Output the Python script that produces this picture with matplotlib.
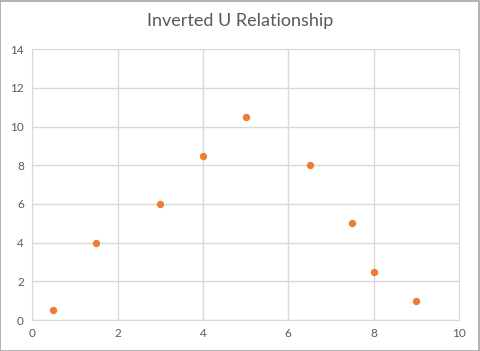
import matplotlib.pyplot as plt
from matplotlib.patches import Rectangle

# data
x_vals = [0.5, 1.5, 3, 4, 5, 6.5, 7.5, 8, 9]
y_vals = [0.5, 4, 6, 8.5, 10.5, 8, 5, 2.5, 1]
x_ticks = [0, 2, 4, 6, 8, 10]
y_ticks = [0, 2, 4, 6, 8, 10, 12, 14]

plt.rcParams['font.family'] = ['Lato', 'DejaVu Sans']

fig = plt.figure(figsize=(4.8, 3.51), dpi=100)
ax = fig.add_axes([0.067, 0.088, 0.889, 0.772])

grid_col = '#d9d9d9'
text_col = '#595959'

ax.scatter(x_vals, y_vals, s=28, color='#ED7D31', zorder=3, linewidths=0)

ax.set_xlim(0, 10)
ax.set_ylim(0, 14)
ax.set_xticks(x_ticks)
ax.set_yticks(y_ticks)
ax.grid(True, color=grid_col, linewidth=1)
ax.set_axisbelow(True)
for side in ax.spines.values():
    side.set_color(grid_col)
ax.tick_params(length=0, colors=text_col, labelsize=8.5, pad=6)

fig.text(0.5, 0.94, 'Inverted U Relationship', ha='center', va='center',
         fontsize=13, color=text_col)

# outer chart border
fig.patches.append(Rectangle((0.001, 0.001), 0.997, 0.996, transform=fig.transFigure,
                             fill=False, edgecolor='#a6a6a6', linewidth=1.2))

fig.savefig('out.png', dpi=100)
